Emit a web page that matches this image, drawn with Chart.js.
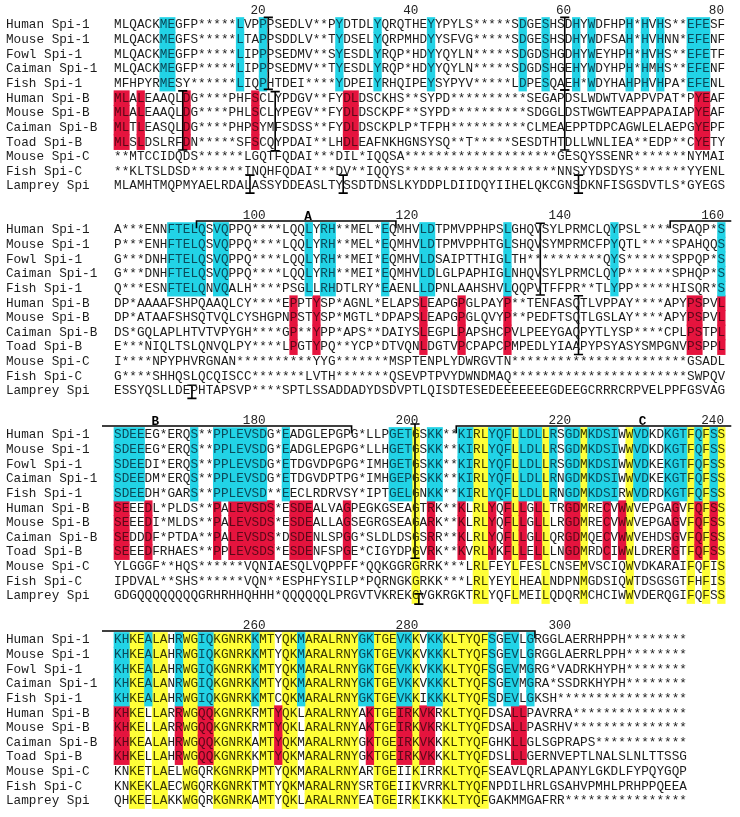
<!DOCTYPE html>
<html>
<head>
<meta charset="utf-8">
<script src="https://cdn.jsdelivr.net/npm/chart.js@4.4.1/dist/chart.umd.min.js"></script>
<style>
  html, body { margin: 0; padding: 0; background: #fff; }
  #wrap { width: 740px; height: 817px; }
</style>
</head>
<body>
<div id="wrap"><canvas id="chart" width="740" height="817"></canvas></div>
<script>
// 서열 이름 (행)
const rowNames = ['Human Spi-1', 'Mouse Spi-1', 'Fowl Spi-1', 'Caiman Spi-1', 'Fish Spi-1',
    'Human Spi-B', 'Mouse Spi-B', 'Caiman Spi-B', 'Toad Spi-B', 'Mouse Spi-C', 'Fish Spi-C', 'Lamprey Spi'];

// 블록 시작 위치와 길이
const blockStarts = [1, 81, 161, 241];
const blockLens = [80, 80, 80, 75];

const block1 = [
    'MLQACKMEGFP*****LVPPPSEDLV**PYDTDLYQRQTHEYYPYLS*****SDGESHSDHYWDFHPH*HVHS**EFESF',
    'MLQACKMEGFS*****LTAPPSDDLV**TYDSELYQRPMHDYYSFVG*****SDGESHSDHYWDFSAH*HVHNN*EFENF',
    'MLQACKMEGFP*****LIPPPSEDMV**SYESDLYRQP*HDYYQYLN*****SDGDSHGDHYWEYHPH*HVHS**EFETF',
    'MLQACKMEGFP*****LIPPPSEDMV**TYESDLYRQP*HDYYQYLN*****SDGDSHGEHYWDYHPH*HMHS**EFENF',
    'MFHPYRMESY******LIQPHTDEI****YDPEIYRHQIPEYSYPYV*****LDPESQAEH*WDYHAHPHVHPA*EFENL',
    'MLALEAAQLDG****PHFSCLYPDGV**FYDLDSCKHS**SYPD**********SEGAPDSLWDWTVAPPVPAT*PYEAF',
    'MLALEAAQLDG****PHLSCLYPEGV**FYDLDSCKPF**SYPD**********SDGGLDSTWGWTEAPPAPAIAPYEAF',
    'MLTLEASQLDG****PHPSYMFSDSS**FYDLDSCKPLP*TFPH**********CLMEAEPPTDPCAGWLELAEPGYEPF',
    'MLSLDSLRFDN*****SFSCQYPDAI**LHDLEAFNKHGNSYSQ**T*****SESDTHTDLLWNLIEA**EDP**CYETY',
    '**MTCCIDQDS******LGQTFQDAI***DIL*IQQSA********************GESQYSSENR*******NYMAI',
    '**KLTSLDSD*******INQHFQDAI***DV**IQQYS********************NNSYYDSDYS*******YYENL',
    'MLAMHTMQPMYAELRDALASSYDDEASLTYSSDTDNSLKYDDPLDIIDQYIIHELQKCGNSDKNFISGSDVTLS*GYEGS'
];
const block2 = [
    'A***ENNFTELQSVQPPQ****LQQLYRH**MEL*EQMHVLDTPMVPPHPSLGHQVSYLPRMCLQYPSL****SPAQP*S',
    'P***ENHFTELQSVQPPQ****LQQLYRH**MEL*EQMHVLDTPMVPPHTGLSHQVSYMPRMCFPYQTL****SPAHQQS',
    'G***DNHFTELQSVQPPQ****LQQLYRH**MEI*EQMHVLDSAIPTTHIGLTH**********QYS******SPPQP*S',
    'G***DNHFTELQSVQPPQ****LQQLYRH**MEI*EQMHVLDLGLPAPHIGLNHQVSYLPRMCLQYP******SPHQP*S',
    'Q***ESNFTELQNVQALH****PSGLLRHDTLRY*EAENLLDPNLAAHSHVLQQPVTFFPR**TLYPP*****HISQR*S',
    'DP*AAAAFSHPQAAQLCY****EPPTYSP*AGNL*ELAPSLEAPGPGLPAYP**TENFASQTLVPPAY****APYPSPVL',
    'DP*ATAAFSHSQTVQLCYSHGPNPSTYSP*MGTL*DPAPSLEAPGPGLQVYP**PEDFTSQTLGSLAY****APYPSPVL',
    'DS*GQLAPLHTVTVPYGH****GP**YPP*APS**DAIYSLEGPLPAPSHCPVLPEEYGAQPYTLYSP****CPLPSTPL',
    'E***NIQLTSLQNVQLPY****LPGTYPQ**YCP*DTVQNLDGTVPCPAPCPMPEDLYIAAPYPSYASYSMPGNVPSPPL',
    'I****NPYPHVRGNAN**********YYG*******MSPTENPLYDWRGVTN***********************GSADL',
    'G****SHHQSLQCQISCC*******LVTH*******QSEVPTPVYDWNDMAQ***********************SWPQV',
    'ESSYQSLLDEPHTAPSVP****SPTLSSADDADYDSDVPTLQISDTESEDEEEEEEEGDEEGCRRRCRPVELPPFGSVAG'
];
const block3 = [
    'SDEEEG*ERQS**PPLEVSDG*EADGLEPGPG*LLPGETGSKK**KIRLYQFLLDLLRSGDMKDSIWWVDKDKGTFQFSS',
    'SDEEEG*ERQS**PPLEVSDG*EADGLEPGPG*LLHGETGSKK**KIRLYQFLLDLLRSGDMKDSIWWVDKDKGTFQFSS',
    'SDEEDI*ERQS**PPLEVSDG*ETDGVDPGPG*IMHGETGSKK**KIRLYQFLLDLLRSGDMKDSIWWVDKEKGTFQFSS',
    'SDEEDM*ERQS**PPLEVSDG*ETDGVDPTPG*IMHGEPGSKK**KIRLYQFLLDLLRNGDMKDSIWWVDKEKGTFQFSS',
    'SDEEDH*GARS**PPLEVSD**EECLRDRVSY*IPTGELGNKK**KIRLYQFLLDLLRNGDMKDSIRWVDRDKGTFQFSS',
    'SEEEDL*PLDS**PALEVSDS*ESDEALVAGPEGKGSEAGTRK**KLRLYQFLLGLLTRGDMRECVWWVEPGAGVFQFSS',
    'SEEEDI*MLDS**PALEVSDS*ESDEALLAGSEGRGSEAGARK**KLRLYQFLLGLLLRGDMRECVWWVEPGAGVFQFSS',
    'SEDDDF*PTDA**PALEVSDS*DSDENLSPGG*SLDLDSGSRR**KLRLYQFLLGLLQRGDMQECVWWVEHDSGVFQFSS',
    'SEEEDFRHAES**PPLEVSDS*ESDENFSPGE*CIGYDPGVRK**KVRLYKFLLELLLNGDMRDCIWWLDRERGTFQFSS',
    'YLGGGF**HQS******VQNIAESQLVQPPFF*QQKGGRGRRK***LRLFEYLFESLCNSEMVSCIQWVDKARAIFQFIS',
    'IPDVAL**SHS******VQN**ESPHFYSILP*PQRNGKGRKK***LRLYEYLHEALNDPNMGDSIQWTDSGSGTFHFIS',
    'GDGQQQQQQQQGRHRHHQHHH*QQQQQQLPRGVTVKREKGVGKRGKTRLYQFLMEILQDQRMCHCIWWVDERQGIFQFSS'
];
const block4 = [
    'KHKEALAHRWGIQKGNRKKMTYQKMARALRNYGKTGEVKKVKKKLTYQFSGEVLGRGGLAERRHPPH********',
    'KHKEALAHRWGIQKGNRKKMTYQKMARALRNYGKTGEVKKVKKKLTYQFSGEVLGRGGLAERRLPPH********',
    'KHKEALAHRWGIQKGNRKKMTYQKMARALRNYGKTGEVKKVKKKLTYQFSGEVMGRG*VADRKHYPH********',
    'KHKEALANRWGIQKGNRKKMTYQKMARALRNYGKTGEVKKVKKKLTYQFSGEVMGRA*SSDRKHYPH********',
    'KHKEALAHRWGIQKGNRKKMTCQKMARALRNYGKTGEVKKIKKKLTYQFSDEVLGKSH*****************',
    'KHKELLARRWGQQKGNRKRMTYQKLARALRNYAKTGEIRKVKRKLTYQFDSALLPAVRRA***************',
    'KHKELLARRWGQQKGNRKRMTYQKLARALRNYAKTGEIRKVKRKLTYQFDSALLPASRHV***************',
    'KHKEALAHRWGQQKGNRKAMTYQKMARALRNYGKTGEIRKVKKKLTYQFGHKLLGLSGPRAPS************',
    'KHKELLAHRWGQQKGNRKKMTYQKMARALRNYGKTGEIRKVKKKLTYQFDSLLLGERNVEPTLNALSLNLTTSSG',
    'KNKETLAELWGQRKGNRKPMTYQKMARALRNYARTGEIIKIRRKLTYQFSEAVLQRLAPANYLGKDLFYPQYGQP',
    'KNKEKLAECWGQRKGNRKTMTYQKMARALRNYSRTGEIIKVRRKLTYQFNPDILHRLGSAHVPMHLPRHPPQEEA',
    'QHKEELAKKWGQRKGNRKAMTYQKLARALRNYEATGEIRKIKKKLTYQFGAKMMGAFRR****************'
];
const blocks = [block1, block2, block3, block4];

// 강조 컬럼 (블록 내 위치, 1부터)
const cyanCols = [
    [7, 8, 17, 20, 30, 35, 42, 54, 57, 61, 63, 68, 70, 72, 76, 77, 78],
    [8, 9, 10, 11, 12, 14, 15, 26, 28, 29, 36, 41, 42, 52, 66, 80],
    [1, 2, 3, 4, 11, 14, 15, 16, 17, 18, 19, 20, 23, 37, 38, 39, 42, 43, 46, 47, 50, 51, 52, 54, 55, 56, 58, 60, 61, 63, 64, 65, 66, 69, 70, 73, 74, 75, 77, 79],
    [1, 2, 5, 9, 12, 13, 19, 25, 33, 34, 38, 39, 42, 43, 50, 52, 53, 55]
];
const redCols = [
    [1, 2, 4, 10, 19, 31, 32, 77, 78],
    [24, 27, 41, 46, 52, 76, 77, 80],
    [1, 2, 5, 14, 16, 17, 18, 19, 20, 21, 24, 25, 26, 31, 42, 46, 50, 52, 54, 56, 60, 61, 65, 67, 74, 77, 79],
    [1, 2, 9, 12, 13, 22, 34, 38, 39, 41, 42, 53, 54]
];
const yellowCols = [
    [],
    [],
    [40, 48, 49, 53, 57, 62, 68, 76, 78, 80],
    [3, 4, 6, 7, 10, 11, 14, 15, 16, 17, 18, 20, 21, 23, 24, 26, 27, 28, 29, 30, 31, 32, 35, 36, 37, 40, 44, 45, 46, 47, 48, 49]
];

// 위치 눈금 라벨
const posLabels = [20, 40, 60, 80, 100, 120, 140, 160, 180, 200, 220, 240, 260, 280, 300];

// 구간 표시 (A, B, C) — 서열 위치 단위
const domainNames = ['A', 'B', 'C'];
const domainFrom = [91.3, 153.3, 205.3];
const domainTo = [117.4, 191.6, 295.6];
const domainLabelAt = [105.9, 165.9, 229.7];

// I자 표시: [블록, 컬럼, 위 행, 아래 행]
const hingeMarks = [
    [0, 20.7, -0.52, 4.4], [0, 21.6, 4.55, 8.6], [0, 9.5, 4.5, 8.54],
    [0, 18.3, 10.25, 11.48], [0, 30.5, 10.25, 11.48],
    [0, 59.5, -0.52, 4.44], [0, 59.5, 4.44, 8.54], [0, 61.3, 10.25, 11.48],
    [1, 56.3, -0.46, 4.44], [1, 61.3, 4.49, 8.5], [1, 10.7, 10.6, 11.5],
    [2, 39.9, -0.75, 8.42], [2, 40.4, 10.85, 11.55]
];

const ROWS_PER_BLOCK = 14;
const COLORS = { cyan: '#22d3e6', red: '#e5143e', yellow: '#ffff38' };
const TEXT_ON = { cyan: '#0b4a5a', red: '#5a0818', yellow: '#3a3a00', none: '#1c1c1c' };
const FONT = '"Liberation Mono", "Courier New", monospace';

function toRuns(cols) {
    const out = [];
    let a = null, p = null;
    cols.slice().sort((m, n) => m - n).forEach(c => {
        if (a === null) { a = c; p = c; }
        else if (c === p + 1) { p = c; }
        else { out.push([a, p]); a = c; p = c; }
    });
    if (a !== null) out.push([a, p]);
    return out;
}

// 셀 색상 조회
const cellColor = {};
function barData(kind, colsList, rowsFor) {
    const data = [];
    colsList.forEach((cols, b) => {
        rowsFor.forEach(r => {
            cols.forEach(c => { cellColor[b + ':' + r + ':' + c] = kind; });
            toRuns(cols).forEach(([s, e]) => data.push({ x: [s - 0.5, e + 0.5], y: b * ROWS_PER_BLOCK + r }));
        });
    });
    return data;
}
const allRows = rowNames.map((_, i) => i);
const yellowData = barData('yellow', yellowCols, allRows);
const cyanData = barData('cyan', cyanCols, [0, 1, 2, 3, 4]);
const redData = barData('red', redCols, [5, 6, 7, 8]);

function hingeDataset(m) {
    const [b, c, t, btm] = m;
    const yt = b * ROWS_PER_BLOCK + t, yb = b * ROWS_PER_BLOCK + btm, w = 0.6;
    return {
        type: 'line', order: 0, indexAxis: 'x',
        data: [{ x: c - w, y: yt }, { x: c + w, y: yt }, { x: c, y: yt }, { x: c, y: yb }, { x: c - w, y: yb }, { x: c + w, y: yb }],
        borderColor: '#000', borderWidth: 1.6, pointRadius: 0, fill: false, tension: 0
    };
}

function bracketDatasets() {
    const sets = [];
    domainNames.forEach((name, d) => {
        blockStarts.forEach((s, b) => {
            const fromCol = domainFrom[d] - s + 1, toCol = domainTo[d] - s + 1;
            if (toCol < -1 || fromCol > 81.5) return;
            const a = Math.max(fromCol, -1.07), e = Math.min(toCol, 81.3);
            const lineY = b * ROWS_PER_BLOCK - 0.61, tickY = b * ROWS_PER_BLOCK - 0.12;
            const pts = [];
            if (fromCol >= -1.07) pts.push({ x: a, y: tickY });
            pts.push({ x: a, y: lineY }, { x: e, y: lineY });
            if (toCol <= 81.3) pts.push({ x: e, y: tickY });
            sets.push({ type: 'line', order: 0, indexAxis: 'x', data: pts, borderColor: '#000', borderWidth: 1.6, pointRadius: 0, fill: false, tension: 0 });
        });
    });
    return sets;
}

const textPlugin = {
    id: 'seqText',
    afterDatasetsDraw(chart) {
        const ctx = chart.ctx, xs = chart.scales.x, ys = chart.scales.y;
        ctx.save();
        ctx.textBaseline = 'middle';
        ctx.font = '12.7px ' + FONT;
        blocks.forEach((rows, b) => {
            rows.forEach((seq, r) => {
                const y = ys.getPixelForValue(b * ROWS_PER_BLOCK + r);
                ctx.textAlign = 'left';
                ctx.fillStyle = TEXT_ON.none;
                ctx.fillText(rowNames[r], xs.getPixelForValue(-13.64), y);
                ctx.textAlign = 'center';
                for (let i = 0; i < seq.length; i++) {
                    const kind = cellColor[b + ':' + r + ':' + (i + 1)] || 'none';
                    ctx.fillStyle = TEXT_ON[kind];
                    ctx.fillText(seq[i], xs.getPixelForValue(i + 1), y);
                }
            });
            // 위치 라벨
            ctx.textAlign = 'right';
            ctx.fillStyle = '#222';
            posLabels.forEach(n => {
                const col = n - blockStarts[b] + 1;
                if (col < 1 || col > blockLens[b]) return;
                ctx.fillText(String(n), xs.getPixelForValue(col + 0.35), ys.getPixelForValue(b * ROWS_PER_BLOCK - 0.95));
            });
        });
        // 구간 라벨
        ctx.font = 'bold 12.7px ' + FONT;
        ctx.textAlign = 'center';
        ctx.fillStyle = '#000';
        domainNames.forEach((name, d) => {
            blockStarts.forEach((s, b) => {
                const col = domainLabelAt[d] - s + 1;
                if (col < 0 || col > 81) return;
                ctx.fillText(name, xs.getPixelForValue(col), ys.getPixelForValue(b * ROWS_PER_BLOCK - 0.88));
            });
        });
        ctx.restore();
    }
};

const barBase = { type: 'bar', order: 1, indexAxis: 'y', grouped: false, barThickness: 15, borderWidth: 0, borderSkipped: false };

new Chart(document.getElementById('chart'), {
    type: 'bar',
    data: {
        datasets: [
            ...hingeMarks.map(hingeDataset),
            ...bracketDatasets(),
            Object.assign({ label: 'Spi-1', data: cyanData, backgroundColor: COLORS.cyan }, barBase),
            Object.assign({ label: 'Spi-B', data: redData, backgroundColor: COLORS.red }, barBase),
            Object.assign({ label: 'all', data: yellowData, backgroundColor: COLORS.yellow }, barBase)
        ]
    },
    options: {
        indexAxis: 'y',
        responsive: false, maintainAspectRatio: false, animation: false, devicePixelRatio: 1,
        layout: { padding: 0 },
        scales: {
            x: { type: 'linear', min: -14.42, max: 82.44, offset: false, display: false, grid: { offset: false } },
            y: { type: 'linear', min: -1.707, max: 54.09, reverse: true, offset: false, display: false, grid: { offset: false } }
        },
        plugins: { legend: { display: false }, tooltip: { enabled: false } }
    },
    plugins: [textPlugin]
});
</script>
</body>
</html>
